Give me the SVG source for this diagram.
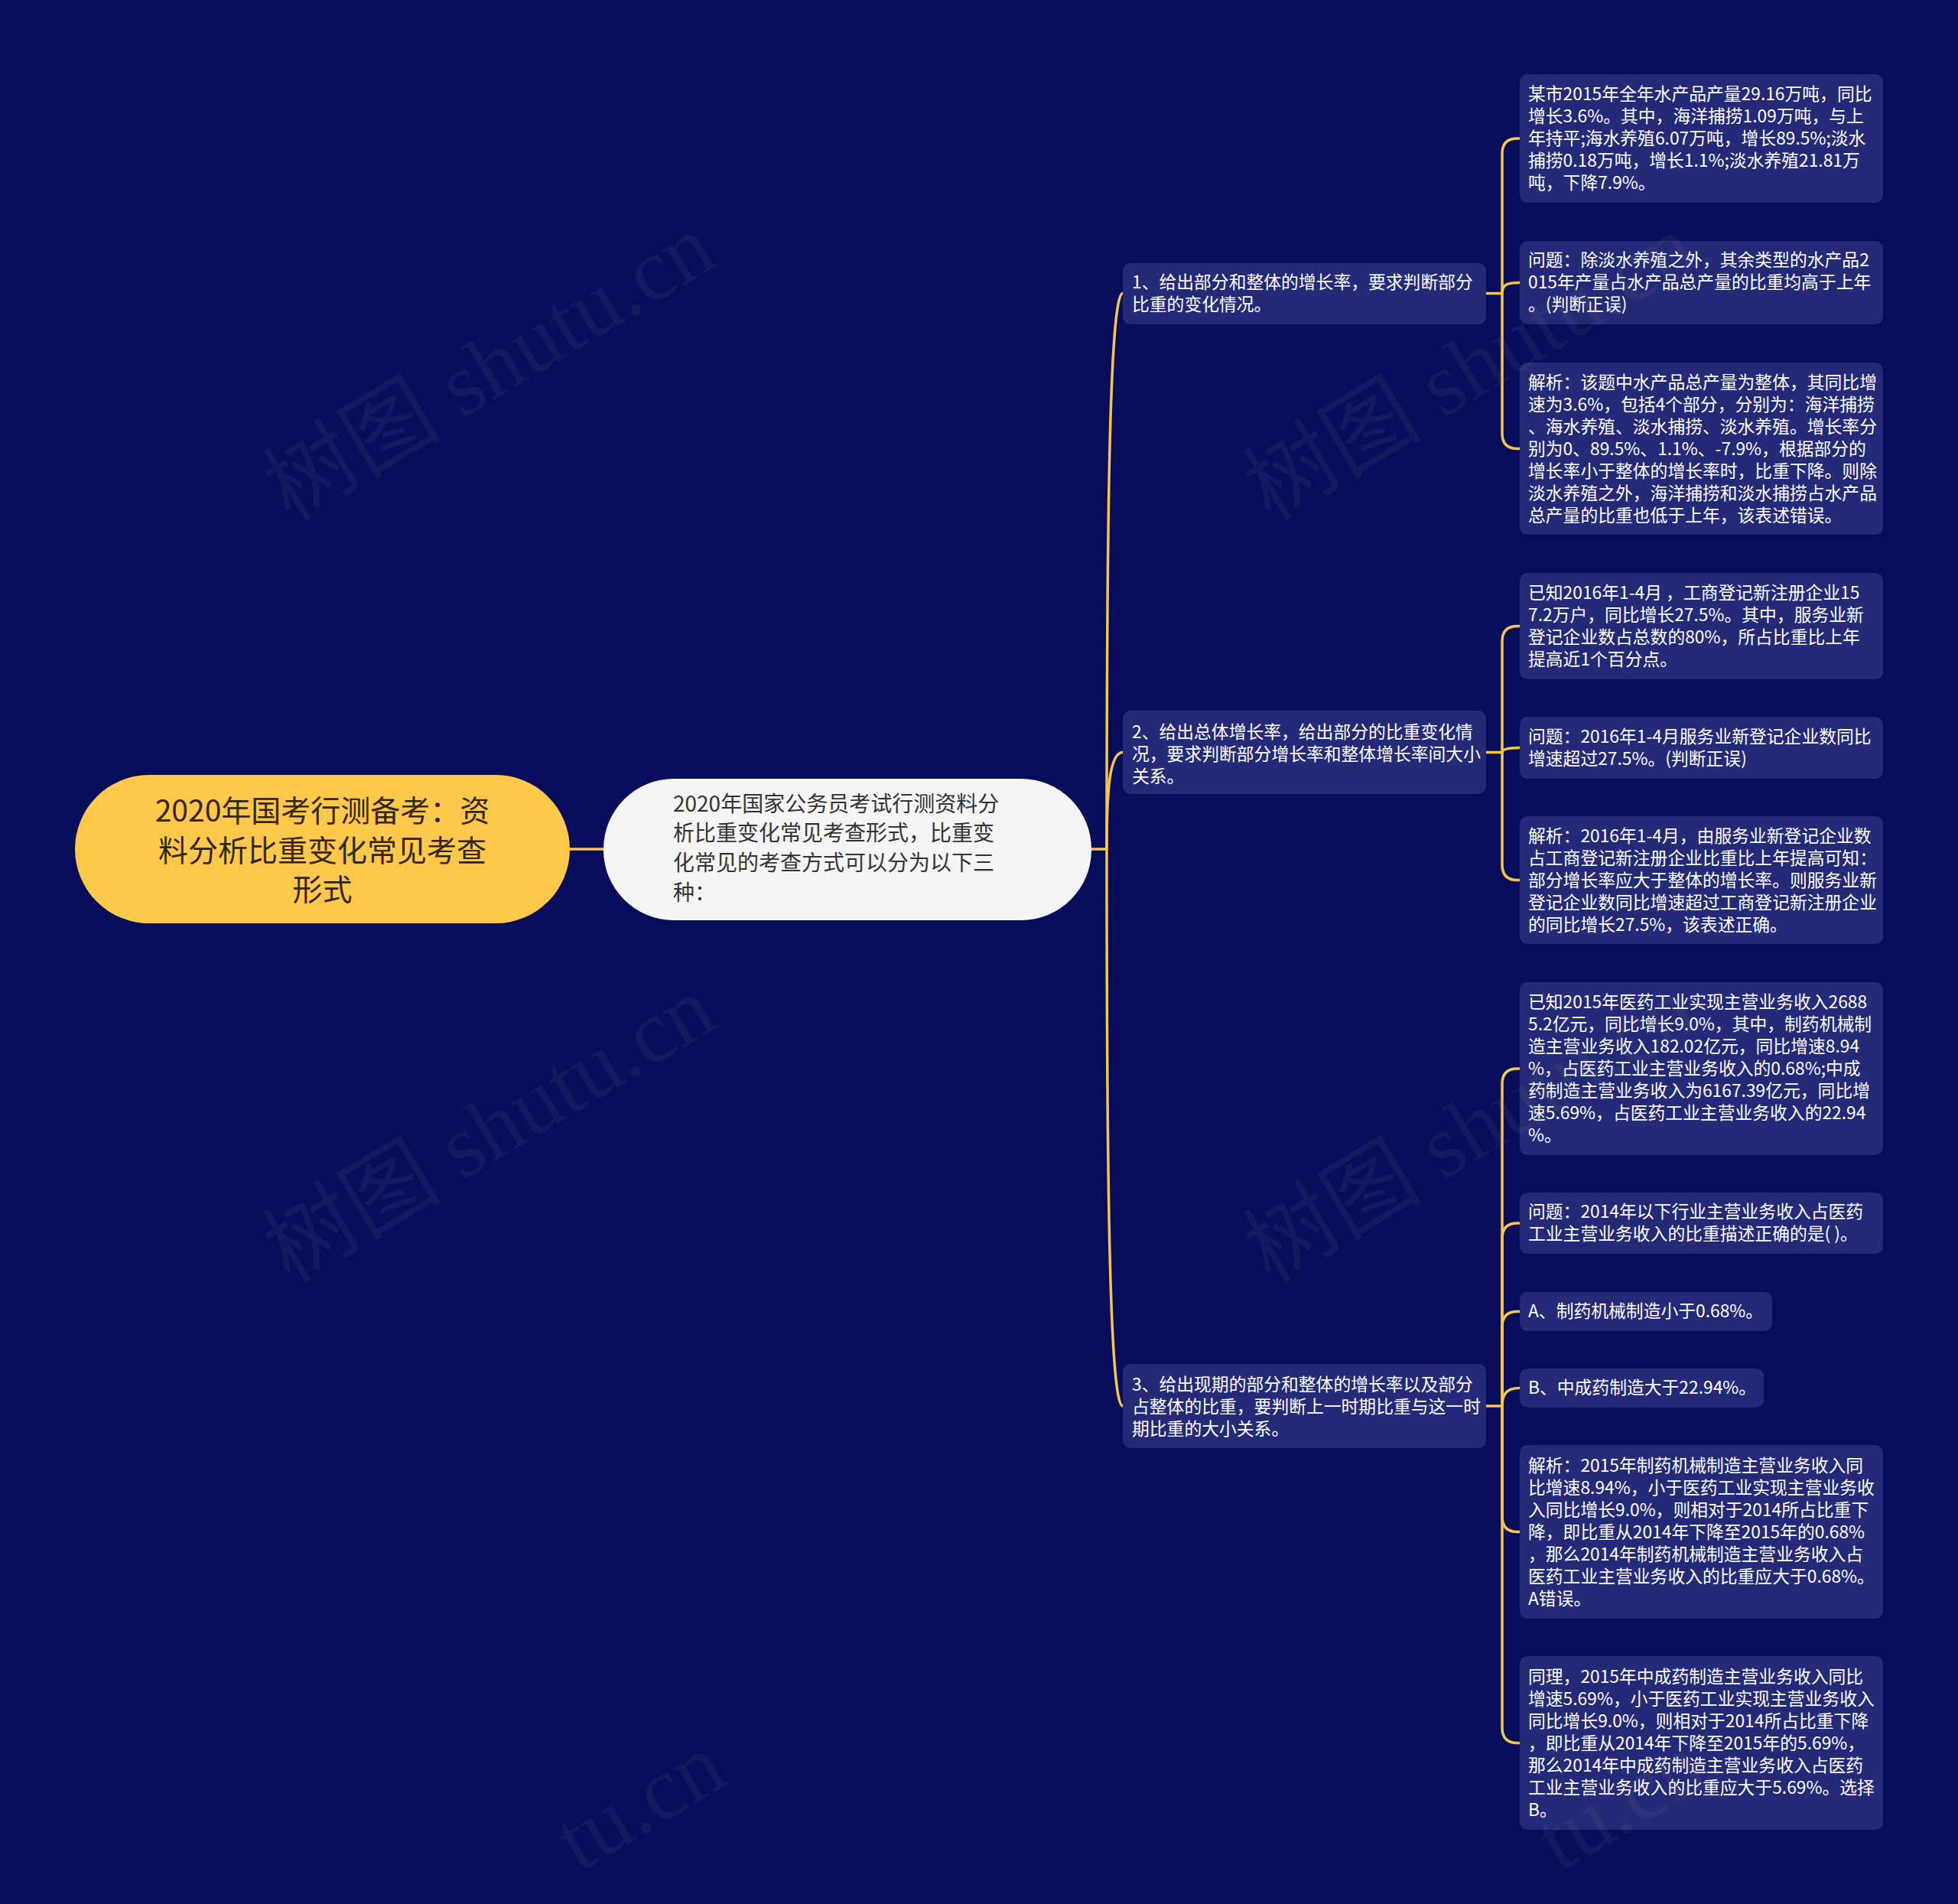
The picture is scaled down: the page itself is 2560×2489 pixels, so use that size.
<svg xmlns="http://www.w3.org/2000/svg" width="2560" height="2489" viewBox="0 0 2560 2489">
<style>
.bg{fill:#080d5b}
.conn path{fill:none;stroke:#f5c64c;stroke-width:3.5;stroke-linecap:round}
.box{fill:#252a78}
.t{font-family:"Noto Sans CJK SC","Noto Sans",sans-serif;font-size:22.8px;fill:#ffffff}
.root{fill:#fec84a}
.rt{font-family:"Noto Sans CJK SC","Noto Sans",sans-serif;font-size:39px;fill:#33270a;text-anchor:middle}
.sub{fill:#f5f5f5}
.st{font-family:"Noto Sans CJK SC","Noto Sans",sans-serif;font-size:28px;fill:#333333}
.wm{font-family:"Liberation Serif","Noto Sans CJK SC",serif;font-size:117px;fill:#808080;fill-opacity:0.1}
</style>
<rect class="bg" x="0" y="0" width="2560" height="2489"/>

<g id="connectors" class="conn">
<path d="M745 1110 L789 1110"/>
<path d="M1427 1110 L1447 1110"/>
<path d="M1447 1110 C1447 700 1450 383.5 1468 383.5"/>
<path d="M1447 1110 C1447 1038 1450 983.5 1468 983.5"/>
<path d="M1447 1110 C1447 1520 1450 1838 1468 1838"/>

<path d="M1943 383.5 L1964 383.5"/>
<path d="M1964 383.5 L1964 201 Q1964 181 1984 181 L1987 181"/>
<path d="M1964 383.5 C1964 372 1970 369.5 1987 369.5"/>
<path d="M1964 383.5 L1964 566.5 Q1964 586.5 1984 586.5 L1987 586.5"/>

<path d="M1943 983.5 L1964 983.5"/>
<path d="M1964 983.5 L1964 838.5 Q1964 818.5 1984 818.5 L1987 818.5"/>
<path d="M1964 983.5 C1964 980 1970 977.5 1987 977.5"/>
<path d="M1964 983.5 L1964 1130.5 Q1964 1150.5 1984 1150.5 L1987 1150.5"/>

<path d="M1943 1838 L1964 1838"/>
<path d="M1964 1838 L1964 1417 Q1964 1397 1984 1397 L1987 1397"/>
<path d="M1964 1838 L1964 1619 Q1964 1599 1984 1599 L1987 1599"/>
<path d="M1964 1838 L1964 1734.5 Q1964 1714.5 1984 1714.5 L1987 1714.5"/>
<path d="M1964 1838 C1964 1822 1970 1814.5 1987 1814.5"/>
<path d="M1964 1838 L1964 1982.5 Q1964 2002.5 1984 2002.5 L1987 2002.5"/>
<path d="M1964 1838 L1964 2258.5 Q1964 2278.5 1984 2278.5 L1987 2278.5"/>
</g>

<g id="root">
<rect class="root" x="98" y="1013" width="647" height="194" rx="97"/>
<text class="rt"><tspan x="421.5" y="1074">2020年国考行测备考：资</tspan><tspan x="421.5" y="1126">料分析比重变化常见考查</tspan><tspan x="421.5" y="1177">形式</tspan></text>
</g>

<g id="intro">
<rect class="sub" x="789" y="1018" width="638" height="185" rx="92"/>
<text class="st"><tspan x="880" y="1061">2020年国家公务员考试行测资料分</tspan><tspan x="880" y="1099">析比重变化常见考查形式，比重变</tspan><tspan x="880" y="1138">化常见的考查方式可以分为以下三</tspan><tspan x="880" y="1177">种：</tspan></text>
</g>

<g id="cat1">
<rect class="box" x="1468" y="344" width="475" height="80" rx="10"/>
<text class="t"><tspan x="1480" y="377">1、给出部分和整体的增长率，要求判断部分</tspan><tspan x="1480" y="406">比重的变化情况。</tspan></text>
</g>
<g id="cat2">
<rect class="box" x="1468" y="929" width="475" height="109" rx="10"/>
<text class="t"><tspan x="1480" y="965">2、给出总体增长率，给出部分的比重变化情</tspan><tspan x="1480" y="994">况，要求判断部分增长率和整体增长率间大小</tspan><tspan x="1480" y="1023">关系。</tspan></text>
</g>
<g id="cat3">
<rect class="box" x="1468" y="1783" width="475" height="110" rx="10"/>
<text class="t"><tspan x="1480" y="1818">3、给出现期的部分和整体的增长率以及部分</tspan><tspan x="1480" y="1847">占整体的比重，要判断上一时期比重与这一时</tspan><tspan x="1480" y="1876">期比重的大小关系。</tspan></text>
</g>

<g id="leaf1a">
<rect class="box" x="1987" y="97" width="475" height="168" rx="10"/>
<text class="t"><tspan x="1998" y="131">某市2015年全年水产品产量29.16万吨，同比</tspan><tspan x="1998" y="160">增长3.6%。其中，海洋捕捞1.09万吨，与上</tspan><tspan x="1998" y="189">年持平;海水养殖6.07万吨，增长89.5%;淡水</tspan><tspan x="1998" y="218">捕捞0.18万吨，增长1.1%;淡水养殖21.81万</tspan><tspan x="1998" y="247">吨，下降7.9%。</tspan></text>
</g>
<g id="leaf1b">
<rect class="box" x="1987" y="315" width="475" height="109" rx="10"/>
<text class="t"><tspan x="1998" y="348">问题：除淡水养殖之外，其余类型的水产品2</tspan><tspan x="1998" y="377">015年产量占水产品总产量的比重均高于上年</tspan><tspan x="1998" y="406">。(判断正误)</tspan></text>
</g>
<g id="leaf1c">
<rect class="box" x="1987" y="474" width="475" height="225" rx="10"/>
<text class="t"><tspan x="1998" y="508">解析：该题中水产品总产量为整体，其同比增</tspan><tspan x="1998" y="537">速为3.6%，包括4个部分，分别为：海洋捕捞</tspan><tspan x="1998" y="566">、海水养殖、淡水捕捞、淡水养殖。增长率分</tspan><tspan x="1998" y="595">别为0、89.5%、1.1%、-7.9%，根据部分的</tspan><tspan x="1998" y="624">增长率小于整体的增长率时，比重下降。则除</tspan><tspan x="1998" y="653">淡水养殖之外，海洋捕捞和淡水捕捞占水产品</tspan><tspan x="1998" y="682">总产量的比重也低于上年，该表述错误。</tspan></text>
</g>

<g id="leaf2a">
<rect class="box" x="1987" y="749" width="475" height="139" rx="10"/>
<text class="t"><tspan x="1998" y="783">已知2016年1-4月 ，工商登记新注册企业15</tspan><tspan x="1998" y="812">7.2万户，同比增长27.5%。其中，服务业新</tspan><tspan x="1998" y="841">登记企业数占总数的80%，所占比重比上年</tspan><tspan x="1998" y="870">提高近1个百分点。</tspan></text>
</g>
<g id="leaf2b">
<rect class="box" x="1987" y="937" width="475" height="81" rx="10"/>
<text class="t"><tspan x="1998" y="971">问题：2016年1-4月服务业新登记企业数同比</tspan><tspan x="1998" y="1000">增速超过27.5%。(判断正误)</tspan></text>
</g>
<g id="leaf2c">
<rect class="box" x="1987" y="1067" width="475" height="167" rx="10"/>
<text class="t"><tspan x="1998" y="1101">解析：2016年1-4月，由服务业新登记企业数</tspan><tspan x="1998" y="1130">占工商登记新注册企业比重比上年提高可知：</tspan><tspan x="1998" y="1159">部分增长率应大于整体的增长率。则服务业新</tspan><tspan x="1998" y="1188">登记企业数同比增速超过工商登记新注册企业</tspan><tspan x="1998" y="1217">的同比增长27.5%，该表述正确。</tspan></text>
</g>

<g id="leaf3a">
<rect class="box" x="1987" y="1284" width="475" height="226" rx="10"/>
<text class="t"><tspan x="1998" y="1318">已知2015年医药工业实现主营业务收入2688</tspan><tspan x="1998" y="1347">5.2亿元，同比增长9.0%，其中，制药机械制</tspan><tspan x="1998" y="1376">造主营业务收入182.02亿元，同比增速8.94</tspan><tspan x="1998" y="1405">%，占医药工业主营业务收入的0.68%;中成</tspan><tspan x="1998" y="1434">药制造主营业务收入为6167.39亿元，同比增</tspan><tspan x="1998" y="1463">速5.69%，占医药工业主营业务收入的22.94</tspan><tspan x="1998" y="1492">%。</tspan></text>
</g>
<g id="leaf3b">
<rect class="box" x="1987" y="1559" width="475" height="80" rx="10"/>
<text class="t"><tspan x="1998" y="1592">问题：2014年以下行业主营业务收入占医药</tspan><tspan x="1998" y="1621">工业主营业务收入的比重描述正确的是( )。</tspan></text>
</g>
<g id="leaf3c">
<rect class="box" x="1987" y="1689" width="330" height="51" rx="10"/>
<text class="t"><tspan x="1998" y="1722">A、制药机械制造小于0.68%。</tspan></text>
</g>
<g id="leaf3d">
<rect class="box" x="1987" y="1789" width="319" height="51" rx="10"/>
<text class="t"><tspan x="1998" y="1822">B、中成药制造大于22.94%。</tspan></text>
</g>
<g id="leaf3e">
<rect class="box" x="1987" y="1889" width="475" height="227" rx="10"/>
<text class="t"><tspan x="1998" y="1924">解析：2015年制药机械制造主营业务收入同</tspan><tspan x="1998" y="1953">比增速8.94%，小于医药工业实现主营业务收</tspan><tspan x="1998" y="1982">入同比增长9.0%，则相对于2014所占比重下</tspan><tspan x="1998" y="2011">降，即比重从2014年下降至2015年的0.68%</tspan><tspan x="1998" y="2040">，那么2014年制药机械制造主营业务收入占</tspan><tspan x="1998" y="2069">医药工业主营业务收入的比重应大于0.68%。</tspan><tspan x="1998" y="2098">A错误。</tspan></text>
</g>
<g id="leaf3f">
<rect class="box" x="1987" y="2165" width="475" height="227" rx="10"/>
<text class="t"><tspan x="1998" y="2200">同理，2015年中成药制造主营业务收入同比</tspan><tspan x="1998" y="2229">增速5.69%，小于医药工业实现主营业务收入</tspan><tspan x="1998" y="2258">同比增长9.0%，则相对于2014所占比重下降</tspan><tspan x="1998" y="2287">，即比重从2014年下降至2015年的5.69%，</tspan><tspan x="1998" y="2316">那么2014年中成药制造主营业务收入占医药</tspan><tspan x="1998" y="2345">工业主营业务收入的比重应大于5.69%。选择</tspan><tspan x="1998" y="2374">B。</tspan></text>
</g>

<g id="watermarks">
<text class="wm" text-anchor="middle" transform="translate(660 514) rotate(-31)">树图 shutu.cn</text>
<text class="wm" text-anchor="middle" transform="translate(1942 514) rotate(-31)">树图 shutu.cn</text>
<text class="wm" text-anchor="middle" transform="translate(660 1510) rotate(-31)">树图 shutu.cn</text>
<text class="wm" text-anchor="middle" transform="translate(1942 1510) rotate(-31)">树图 shutu.cn</text>
<text class="wm" text-anchor="end" transform="translate(955 2330) rotate(-31)">tu.cn</text>
<text class="wm" text-anchor="end" transform="translate(2237 2330) rotate(-31)">tu.cn</text>
</g>
</svg>
